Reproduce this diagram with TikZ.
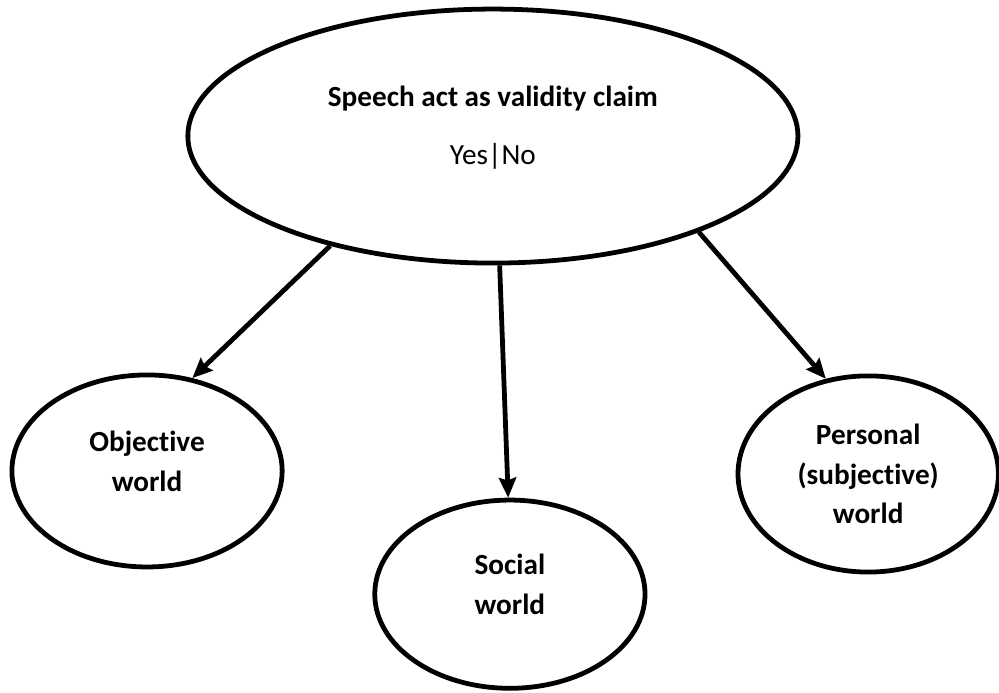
\documentclass[tikz,border=0pt]{standalone}
\usepackage{fontspec}
\setmainfont{Carlito}[Ligatures=NoCommon,Contextuals=NoAlternate]
\usetikzlibrary{shapes.geometric,arrows.meta}
\begin{document}
\begin{tikzpicture}[
    world/.style={draw, ellipse, line width=3.6pt, inner sep=0pt, align=center,
      font=\fontsize{22}{30}\selectfont\bfseries},
    link/.style={line width=3.6pt, -{Stealth[length=15pt,width=13pt,inset=2pt]}}
  ]
            \useasboundingbox (0,0) rectangle (26.43,-18.31);
            \node[world, minimum width=16.14cm, minimum height=6.72cm] (claim) at (13.04, -3.60) {Speech act as validity claim\\[13.5pt]{\mdseries Yes|No}\\[-14pt]\mbox{}};
            \node[world, minimum width=7.15cm, minimum height=5.08cm] (objective) at (3.89, -12.46) {Objective\\world\\[-15pt]\mbox{}};
            \node[world, minimum width=7.15cm, minimum height=4.98cm] (social) at (13.49, -15.72) {Social\\world\\[-15pt]\mbox{}};
            \node[world, minimum width=6.89cm, minimum height=5.19cm] (personal) at (22.97, -12.54) {Personal\\(subjective)\\world};
            \draw[link] (claim.214.6) -- (objective.64.4);
            \draw[link] (claim.273) -- (social.91);
            \draw[link] (claim.335.6) -- (personal.114.9);
         \end{tikzpicture}
\end{document}
